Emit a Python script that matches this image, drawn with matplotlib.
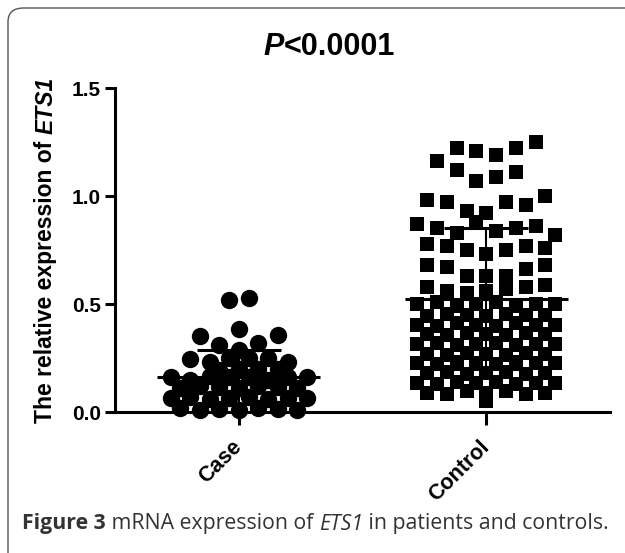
import numpy as np
import matplotlib
matplotlib.use("Agg")
import matplotlib.pyplot as plt
from matplotlib.patches import FancyBboxPatch

# ---------------- data ----------------
categories = ["Case", "Control"]

case_values = [0.52, 0.53,
               0.385,
               0.35, 0.355,
               0.31, 0.32,
               0.285,
               0.245, 0.23, 0.25, 0.25, 0.25, 0.23,
               0.195, 0.20, 0.20, 0.20,
               0.16, 0.15, 0.165, 0.16, 0.16, 0.15, 0.16, 0.16,
               0.11, 0.12, 0.115, 0.11, 0.12, 0.115, 0.11,
               0.065, 0.07, 0.06, 0.065, 0.07, 0.06, 0.065, 0.065,
               0.02, 0.01, 0.015, 0.01, 0.02, 0.015, 0.01]

control_values = [1.16, 1.22, 1.21, 1.19, 1.22, 1.25,
                  1.12, 1.07, 1.09, 1.11,
                  0.98, 0.97, 0.93, 0.92, 0.97, 0.96, 1.00,
                  0.87, 0.85, 0.83, 0.88, 0.84, 0.85, 0.86, 0.82,
                  0.78, 0.77, 0.75, 0.73, 0.75, 0.77, 0.76,
                  0.68, 0.67, 0.63, 0.63, 0.63, 0.66, 0.68,
                  0.58, 0.56, 0.55, 0.56, 0.57, 0.58, 0.59,
                  0.50, 0.51, 0.49, 0.50, 0.51, 0.49, 0.50, 0.50,
                  0.445, 0.455, 0.45, 0.445, 0.455, 0.45, 0.45,
                  0.405, 0.40, 0.41, 0.405, 0.40, 0.41, 0.405, 0.405,
                  0.36, 0.355, 0.365, 0.36, 0.355, 0.365, 0.36,
                  0.315, 0.32, 0.31, 0.315, 0.32, 0.31, 0.315, 0.315,
                  0.27, 0.265, 0.275, 0.27, 0.265, 0.275, 0.27,
                  0.225, 0.22, 0.23, 0.225, 0.22, 0.23, 0.225, 0.225,
                  0.18, 0.185, 0.175, 0.18, 0.185, 0.175, 0.18,
                  0.135, 0.13, 0.14, 0.135, 0.14, 0.13, 0.135, 0.135,
                  0.09, 0.085, 0.095, 0.09, 0.095, 0.085, 0.09,
                  0.05]

group_means = [0.16, 0.525]
group_sds = [0.125, 0.325]

yticks = [0.0, 0.5, 1.0, 1.5]
ytick_labels = ["0.0", "0.5", "1.0", "1.5"]

# ---------------- figure ----------------
W, H = 625, 553
fig = plt.figure(figsize=(W / 100, H / 100), dpi=100)
ax = fig.add_axes([115 / W, 1 - 412 / H, 495 / W, 324 / H])
ax.set_xlim(-0.5, 1.5)
ax.set_ylim(0, 1.5)

px_per_x = 495 / 2.0
px_per_y = 324 / 1.5


def column_scatter(vals, step_px, gap, collide):
    """Prism-like column scatter: split sorted values into rows at gaps,
    centre each row and shift/widen it when it collides with placed rows."""
    vals = np.asarray(vals, float)
    order = np.argsort(vals, kind="stable")
    rows, cur = [], [order[0]]
    for a, b in zip(order[:-1], order[1:]):
        if vals[b] - vals[a] > gap:
            rows.append(cur)
            cur = [b]
        else:
            cur.append(b)
    rows.append(cur)

    xs = np.zeros(len(vals))
    placed = []
    for row in rows:
        row = sorted(row)          # data order inside a row
        n = len(row)
        yrow = vals[row].mean() * px_per_y
        cands = []
        for k in range(1, 7):
            for j in range(0, 11):
                for sgn in ((1,) if j == 0 else (1, -1)):
                    off = sgn * j * step_px / 2
                    pos = (np.arange(n) - (n - 1) / 2) * step_px * k + off
                    cands.append((np.max(np.abs(pos)), abs(off), k, pos))
        cands.sort(key=lambda c: (round(c[0], 3), c[1], c[2]))
        chosen = None
        for _, _, _, pos in cands:
            if all(not collide(p - px, yrow - py) for p in pos for (px, py) in placed):
                chosen = pos
                break
        if chosen is None:
            chosen = (np.arange(n) - (n - 1) / 2) * step_px
        for idx, p in zip(row, chosen):
            xs[idx] = p
            placed.append((p, yrow))
    return xs / px_per_x


case_x = 0 + column_scatter(case_values, 19.5, 0.025,
                            lambda dx, dy: np.hypot(dx, dy) < 12.9)
ctrl_x = 1 + column_scatter(control_values, 19.7, 0.031,
                            lambda dx, dy: abs(dx) < 10 and abs(dy) < 8)

ax.plot(case_x, case_values, "o", color="black", markersize=12.5,
        markeredgewidth=0, clip_on=False, zorder=3)
ax.plot(ctrl_x, control_values, "s", color="black", markersize=10,
        markeredgewidth=0, clip_on=False, zorder=3)

# mean and SD
for i, (m, s) in enumerate(zip(group_means, group_sds)):
    ax.hlines(m, i - 0.33, i + 0.33, color="black", lw=2.2, zorder=4)
    ax.hlines([m + s, max(m - s, 0)], i - 0.17, i + 0.17, color="black", lw=2.2, zorder=4)
    ax.vlines(i, max(m - s, 0), m + s, color="black", lw=1.5, zorder=4)

# axes styling
for sp in ["top", "right"]:
    ax.spines[sp].set_visible(False)
for sp in ["left", "bottom"]:
    ax.spines[sp].set_linewidth(2.2)
ax.set_yticks(yticks)
ax.set_yticklabels(ytick_labels, fontfamily="Liberation Sans", fontweight="bold", fontsize=15)
ax.set_xticks([0, 1])
ax.set_xticklabels(categories, fontfamily="Liberation Sans", fontweight="bold", fontsize=15.5,
                   rotation=45, ha="right", va="center", rotation_mode="anchor")
ax.tick_params(axis="y", length=7, width=2.2, pad=3)
ax.tick_params(axis="x", length=9, width=2.2, pad=14)

renderer = fig.canvas.get_renderer()


def pieces_h(x_px, y_px, parts, ha="left"):
    texts, widths = [], []
    for s, kw in parts:
        t = fig.text(0, 0, s, **kw)
        bb = t.get_window_extent(renderer)
        widths.append(bb.width)
        texts.append(t)
    total = sum(widths)
    x = x_px - (total / 2 if ha == "center" else 0)
    for t, w in zip(texts, widths):
        t.set_position((x / W, 1 - y_px / H))
        t.set_va("center")
        x += w


# title
title_kw = dict(fontfamily="Liberation Sans", fontweight="bold", fontsize=22)
pieces_h(329, 47, [("P", dict(style="italic", **title_kw)), ("<0.0001", title_kw)], ha="center")

# y label (vertical pieces)
yl_kw = dict(fontfamily="Liberation Sans", fontweight="bold", fontsize=16.5, rotation=90)
parts = [("The relative expression of ", dict(**yl_kw)), ("ETS1", dict(style="italic", **yl_kw))]
texts, heights = [], []
for s, kw in parts:
    t = fig.text(0, 0, s, **kw)
    bb = t.get_window_extent(renderer)
    heights.append(bb.height)
    texts.append(t)
ycur = 250 + sum(heights) / 2
for t, h in zip(texts, heights):
    t.set_position((46 / W, 1 - ycur / H))
    t.set_va("bottom")
    t.set_ha("center")
    ycur -= h

# caption
cap_kw = dict(fontfamily="Open Sans", fontsize=15.3, color="#333333")
pieces_h(22, 524, [("Figure 3", dict(fontweight="bold", **cap_kw)),
                   (" mRNA expression of ", cap_kw),
                   ("ETS1", dict(style="italic", **cap_kw)),
                   (" in patients and controls.", cap_kw)])

# rounded frame
frame = FancyBboxPatch((8 / W, -20 / H), 650 / W, (H - 8 + 20) / H,
                       boxstyle="round,pad=0,rounding_size=0.025",
                       transform=fig.transFigure, fill=False, edgecolor="#555555",
                       linewidth=1.0, clip_on=False)
fig.patches.append(frame)

fig.savefig("out.png", dpi=100)
